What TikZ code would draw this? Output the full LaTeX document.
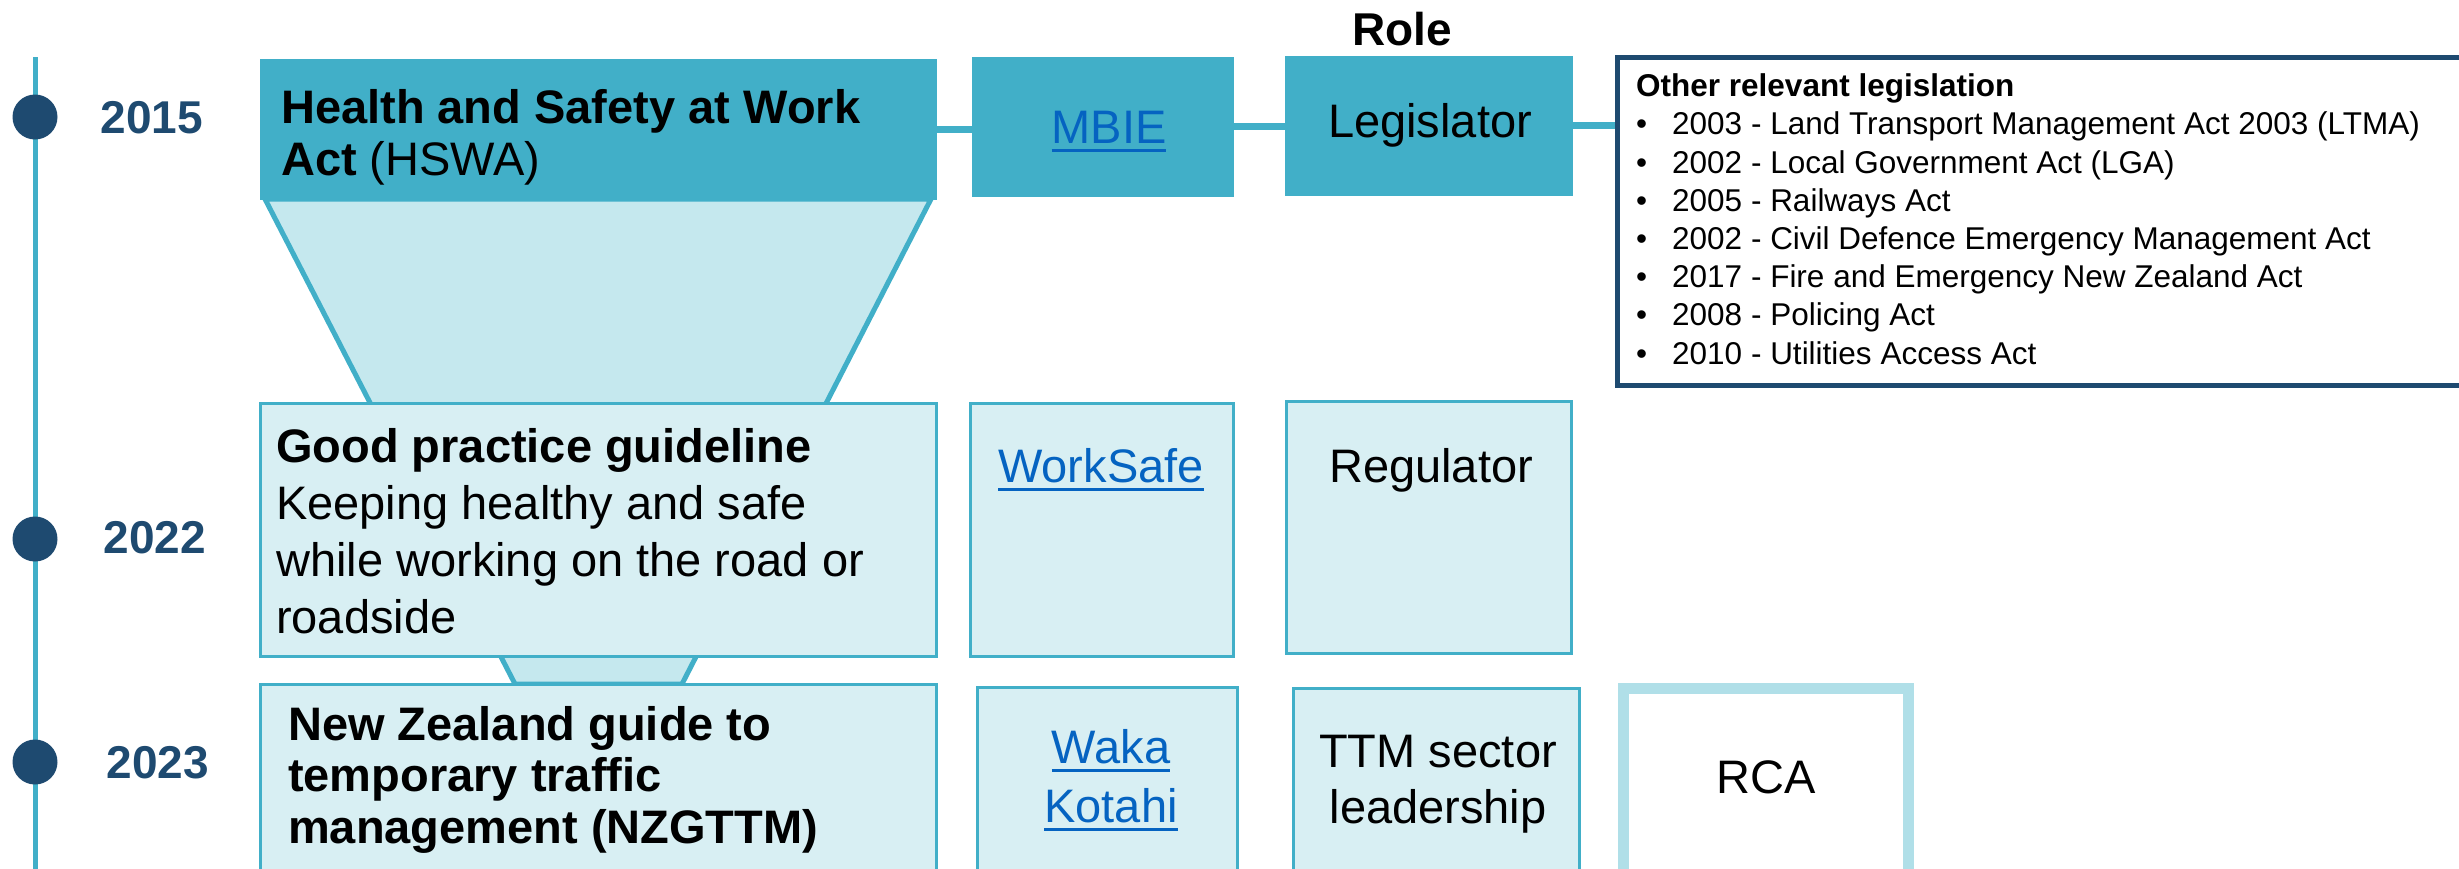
\documentclass[tikz,border=0pt]{standalone}
\usepackage{fontspec}
\setmainfont{Liberation Sans}
\newsavebox\ulbox
\newcommand\ulk[1]{\sbox\ulbox{#1}\rlap{\rule[-9pt]{\wd\ulbox}{3pt}}\usebox\ulbox}
\definecolor{tealA}{HTML}{41AFC8}
\definecolor{lightA}{HTML}{D8EFF3}
\definecolor{funnelA}{HTML}{C5E8EE}
\definecolor{navyA}{HTML}{1E4A70}
\definecolor{linkA}{HTML}{0563C1}
\definecolor{rcaA}{HTML}{B0DFE8}
\newcommand\bigf{\fontsize{47}{52}\selectfont}
\newcommand\smallf{\fontsize{31.5}{38.2}\selectfont}
\tikzset{
  darkbox/.style={rectangle, fill=tealA, draw=tealA, line width=1pt, inner sep=0pt},
  lightbox/.style={rectangle, fill=lightA, draw=tealA, line width=3pt, inner sep=0pt},
  rcabox/.style={rectangle, fill=white, draw=rcaA, line width=11pt, inner sep=0pt},
  legbox/.style={rectangle, fill=white, draw=navyA, line width=5pt, inner sep=0pt},
  conn/.style={draw=tealA, line width=7pt},
  tline/.style={draw=tealA, line width=5pt},
  dotA/.style={circle, fill=navyA, minimum size=45pt, inner sep=0pt},
  yearA/.style={font=\bfseries\fontsize{46}{50}\selectfont, text=navyA, anchor=base, inner sep=0pt},
  txt/.style={font=\bigf, anchor=base west, inner sep=0pt, align=left},
  ctxt/.style={font=\bigf, anchor=base, inner sep=0pt, align=center},
  linkt/.style={ctxt, text=linkA},
  funnelA/.style={fill=funnelA, draw=tealA, line width=5pt, line join=miter}
}
\begin{document}
\begin{tikzpicture}[x=1pt,y=-1pt]
\useasboundingbox (0,0) rectangle (2459,868);
\clip (0,0) rectangle (2459,868);
% timeline
\coordinate (tltop) at (35,57);
\coordinate (tlbot) at (35,880);
\draw[tline] (tltop) -- (tlbot);
\node[dotA] (d15) at (35,117) {};
\node[dotA] (d22) at (35,539) {};
\node[dotA] (d23) at (35,762) {};
\node[yearA] (y15) at (152,133) {2015};
\node[yearA] (y22) at (155,553) {2022};
\node[yearA] (y23) at (158,778) {2023};
% funnel
\draw[funnelA] (265,199) -- (931,199) -- (682,684) -- (515,684) -- cycle;
% left column boxes
\node[darkbox, minimum width=676pt, minimum height=140pt] (hswa) at (598,129) {};
\node[lightbox, minimum width=676pt, minimum height=253pt] (good) at (598,529.5) {};
\node[lightbox, minimum width=676pt, minimum height=216pt] (nzg) at (598,792) {};
% middle columns
\node[darkbox, minimum width=261pt, minimum height=139pt] (mbie) at (1102.5,126.5) {};
\node[darkbox, minimum width=287pt, minimum height=139pt] (legis) at (1428.5,125.5) {};
\node[lightbox, minimum width=263pt, minimum height=253pt] (work) at (1101.5,529.5) {};
\node[lightbox, minimum width=285pt, minimum height=252pt] (regu) at (1428.5,527) {};
\node[lightbox, minimum width=260pt, minimum height=213pt] (waka) at (1107,793.5) {};
\node[lightbox, minimum width=286pt, minimum height=212pt] (ttm) at (1436,794) {};
\node[rcabox, minimum width=285pt, minimum height=216.5pt] (rca) at (1766,796.75) {};
\node[legbox, minimum width=862.5pt, minimum height=328pt] (leg) at (2048.75,221.5) {};
% connectors
\draw[conn] (hswa.east) -- (hswa.east -| mbie.west);
\draw[conn] (mbie.east) -- (mbie.east -| legis.west);
\draw[conn] (legis.east) -- (legis.east -| leg.west);
% texts (multi-line nodes: base = last line's baseline)
\node[ctxt, font=\bfseries\fontsize{46}{50}\selectfont] (role) at (1402,45) {Role};
\node[txt] (hswat) at (281,175) {\textbf{Health and Safety at Work}\\\textbf{Act} (HSWA)};
\node[txt, font=\fontsize{47}{57}\selectfont] (goodt) at (276,633) {\textbf{Good practice guideline}\\Keeping healthy and safe\\while working on the road or\\roadside};
\node[txt, font=\bfseries\fontsize{47}{51.5}\selectfont] (nzgt) at (288,843) {New Zealand guide to\\temporary traffic\\management (NZGTTM)};
\node[linkt] (mbiet) at (1109,143) {\ulk{MBIE}};
\node[ctxt] (legist) at (1430,137) {Legislator};
\node[linkt] (workt) at (1101,482) {\ulk{WorkSafe}};
\node[ctxt] (regut) at (1431,482) {Regulator};
\node[linkt, font=\fontsize{47}{59}\selectfont] (wakat) at (1111,822) {\ulk{Waka}\\\ulk{Kotahi}};
\node[ctxt, font=\fontsize{47}{56}\selectfont] (ttmt) at (1438,823) {TTM sector\\leadership};
\node[ctxt] (rcat) at (1766,793) {RCA};
\node[txt, font=\bfseries\smallf] (legtitle) at (1636,96) {Other relevant legislation};
\node[txt, font=\smallf] (legitems) at (1636,364) {%
\makebox[36pt][l]{•}2003 - Land Transport Management Act 2003 (LTMA)\\
\makebox[36pt][l]{•}2002 - Local Government Act (LGA)\\
\makebox[36pt][l]{•}2005 - Railways Act\\
\makebox[36pt][l]{•}2002 - Civil Defence Emergency Management Act\\
\makebox[36pt][l]{•}2017 - Fire and Emergency New Zealand Act\\
\makebox[36pt][l]{•}2008 - Policing Act\\
\makebox[36pt][l]{•}2010 - Utilities Access Act};
\end{tikzpicture}
\end{document}
